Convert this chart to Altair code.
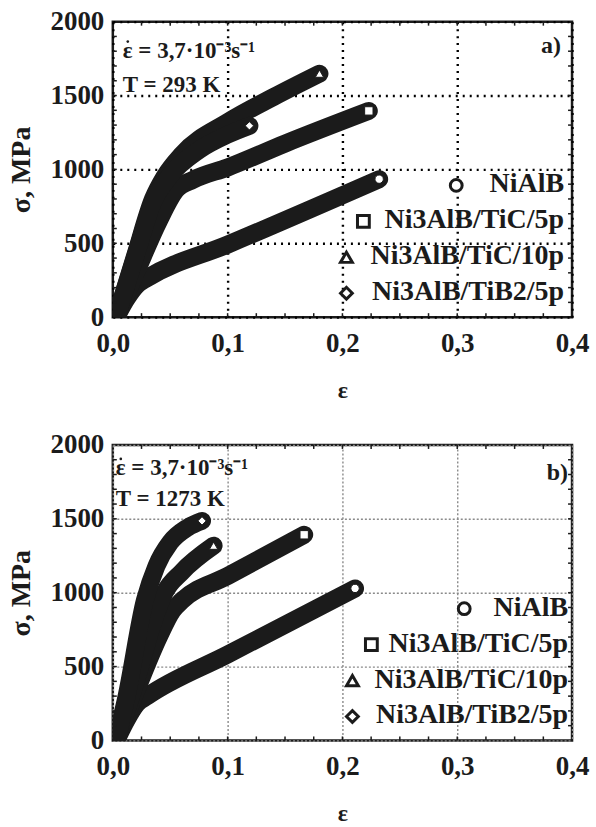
import altair as alt
import pandas as pd

FONT = "Liberation Serif"
INK = "#1b1b1b"

SERIES = ["NiAlB", "Ni3AlB/TiC/5p", "Ni3AlB/TiC/10p", "Ni3AlB/TiB2/5p"]
SHAPES = ["circle", "square", "triangle-up", "diamond"]

# a) T = 293 K -- strain and true stress (MPa) along each curve
A_NIALB_EPS = [0.003, 0.012, 0.022, 0.030, 0.100, 0.232]
A_NIALB_SIG = [0, 125, 225, 265, 491, 934]
A_TIC5_EPS = [0.003, 0.020, 0.040, 0.055, 0.070, 0.100, 0.150, 0.223]
A_TIC5_SIG = [0, 300, 650, 860, 930, 1013, 1175, 1396]
A_TIC10_EPS = [0.003, 0.020, 0.035, 0.045, 0.060, 0.100, 0.140, 0.180]
A_TIC10_SIG = [0, 430, 800, 950, 1100, 1320, 1490, 1648]
A_TIB2_EPS = [0.003, 0.020, 0.035, 0.050, 0.075, 0.100, 0.119]
A_TIB2_SIG = [0, 420, 780, 960, 1130, 1235, 1295]

# b) T = 1273 K
B_NIALB_EPS = [0.003, 0.012, 0.021, 0.030, 0.100, 0.211]
B_NIALB_SIG = [0, 140, 250, 300, 582, 1029]
B_TIC5_EPS = [0.003, 0.020, 0.040, 0.052, 0.060, 0.100, 0.1667]
B_TIC5_SIG = [0, 330, 700, 880, 945, 1113, 1392]
B_TIC10_EPS = [0.003, 0.020, 0.035, 0.045, 0.060, 0.0878]
B_TIC10_SIG = [0, 400, 800, 1000, 1140, 1318]
B_TIB2_EPS = [0.003, 0.012, 0.028, 0.038, 0.050, 0.065, 0.0777]
B_TIB2_SIG = [0, 300, 950, 1180, 1340, 1440, 1486]

X_TICKS = [0.0, 0.1, 0.2, 0.3, 0.4]
Y_TICKS = [0, 500, 1000, 1500, 2000]
X_MINOR = [0.025 * i for i in range(1, 16)]
Y_MINOR = [100 * i for i in range(1, 20)]

W, H = 460, 296
RATE_TEXT = "\u03b5 = 3,7\u00b710\u207b\u00b3s\u207b\u00b9"


def curves(pairs):
    rows = []
    for name, eps, sig in pairs:
        for k, (e, s) in enumerate(zip(eps, sig)):
            rows.append({"series": name, "eps": e, "sig": s, "k": k})
    return pd.DataFrame(rows)


def panel(pairs, temp_text, tag, grid_color, grid_dash, grid_width,
          text_dx, rate_y, temp_y, tag_x, tag_y, leg_right, leg_sym_x):
    df = curves(pairs)
    ends = df.loc[df.groupby("series")["k"].idxmax()]

    x = alt.X("eps:Q", scale=alt.Scale(domain=[0, 0.4], nice=False),
              axis=alt.Axis(values=X_TICKS, title="\u03b5", labelFlush=False,
                            labelExpr="replace(format(datum.value, '.1f'), '.', ',')",
                            gridColor=grid_color, gridDash=grid_dash,
                            gridWidth=grid_width, gridOpacity=1))
    y = alt.Y("sig:Q", scale=alt.Scale(domain=[0, 2000], nice=False),
              axis=alt.Axis(values=Y_TICKS, title="\u03c3, MPa", format="d",
                            labelFlush=False,
                            gridColor=grid_color, gridDash=grid_dash,
                            gridWidth=grid_width, gridOpacity=1))

    lines = alt.Chart(df).mark_line(
        color=INK, strokeWidth=18, strokeCap="round", strokeJoin="round",
        interpolate="monotone", clip=True,
    ).encode(x=x, y=y, detail="series:N", order="k:Q")

    markers = alt.Chart(ends).mark_point(
        filled=True, fill="white", stroke=INK, strokeWidth=1, size=70, opacity=1,
    ).encode(
        x="eps:Q", y="sig:Q",
        shape=alt.Shape("series:N", scale=alt.Scale(domain=SERIES, range=SHAPES),
                        legend=None),
    )

    xt = pd.DataFrame({"t": X_MINOR})
    yt = pd.DataFrame({"t": Y_MINOR})
    ticks = [
        alt.Chart(xt).mark_rule(color=INK, strokeWidth=1.5).encode(
            x="t:Q", y=alt.value(H), y2=alt.value(H - 4)),
        alt.Chart(xt).mark_rule(color=INK, strokeWidth=1.5).encode(
            x="t:Q", y=alt.value(0), y2=alt.value(4)),
        alt.Chart(yt).mark_rule(color=INK, strokeWidth=1.5).encode(
            y="t:Q", x=alt.value(0), x2=alt.value(4)),
        alt.Chart(yt).mark_rule(color=INK, strokeWidth=1.5).encode(
            y="t:Q", x=alt.value(W), x2=alt.value(W - 4)),
    ]

    notes = pd.DataFrame({"rate": [RATE_TEXT], "temp": [temp_text], "tag": [tag]})
    style = dict(font=FONT, fontSize=23, fontWeight="bold", color=INK)
    rate = alt.Chart(notes).mark_text(align="left", baseline="middle", **style).encode(
        x=alt.value(text_dx), y=alt.value(rate_y), text="rate:N")
    # the dot over the strain-rate symbol
    dot = alt.Chart(notes).mark_point(
        shape="circle", filled=True, color=INK, size=7, opacity=1,
    ).encode(x=alt.value(text_dx + 5), y=alt.value(rate_y - 9))
    temp = alt.Chart(notes).mark_text(align="left", baseline="middle", **style).encode(
        x=alt.value(text_dx), y=alt.value(temp_y), text="temp:N")
    tagm = alt.Chart(notes).mark_text(
        align="right", baseline="middle", font=FONT, fontSize=24,
        fontWeight="bold", color=INK,
    ).encode(x=alt.value(tag_x), y=alt.value(tag_y), text="tag:N")

    legend = []
    for i, (name, shp) in enumerate(zip(SERIES, SHAPES)):
        row = pd.DataFrame({"label": [name]})
        ly = 163 + 36 * i
        legend.append(alt.Chart(row).mark_text(
            align="right", baseline="middle", font=FONT, fontSize=28,
            fontWeight="bold", color=INK,
        ).encode(x=alt.value(leg_right), y=alt.value(ly), text="label:N"))
        legend.append(alt.Chart(row).mark_point(
            shape=shp, filled=True, fill="white", stroke=INK, strokeWidth=3,
            size=140, opacity=1,
        ).encode(x=alt.value(leg_sym_x[i]), y=alt.value(ly + 1)))

    return alt.layer(lines, markers, *ticks, rate, dot, temp, tagm, *legend).properties(
        width=W, height=H)


panel_a = panel(
    [("NiAlB", A_NIALB_EPS, A_NIALB_SIG),
     ("Ni3AlB/TiC/5p", A_TIC5_EPS, A_TIC5_SIG),
     ("Ni3AlB/TiC/10p", A_TIC10_EPS, A_TIC10_SIG),
     ("Ni3AlB/TiB2/5p", A_TIB2_EPS, A_TIB2_SIG)],
    "T = 293 K", "a)", "#000000", [2, 5], 2.4,
    text_dx=10, rate_y=29, temp_y=63, tag_x=449, tag_y=24,
    leg_right=452, leg_sym_x=[344, 251, 234, 234],
)

panel_b = panel(
    [("NiAlB", B_NIALB_EPS, B_NIALB_SIG),
     ("Ni3AlB/TiC/5p", B_TIC5_EPS, B_TIC5_SIG),
     ("Ni3AlB/TiC/10p", B_TIC10_EPS, B_TIC10_SIG),
     ("Ni3AlB/TiB2/5p", B_TIB2_EPS, B_TIB2_SIG)],
    "T = 1273 K", "b)", "#8a8a8a", [2, 2], 1.4,
    text_dx=3, rate_y=23, temp_y=54, tag_x=456, tag_y=28,
    leg_right=456, leg_sym_x=[352, 259, 240, 240],
)

chart = alt.vconcat(panel_a, panel_b, spacing=25).properties(
    padding={"left": 6, "top": 5, "right": 5, "bottom": 0},
    background="white",
).configure_view(
    stroke=INK, strokeWidth=2.5,
).configure_axis(
    domain=False, ticks=False, labelFont=FONT, labelFontSize=27,
    labelFontWeight="bold", labelColor=INK, labelPadding=9,
    titleFont=FONT, titleFontSize=28, titleFontWeight="bold",
    titleColor=INK, grid=True,
).configure_axisX(
    labelPadding=13, titlePadding=22, titleFontSize=24,
).configure_axisY(
    titlePadding=14,
)

chart.save("out.html", embed_options={"renderer": "svg", "actions": False})
